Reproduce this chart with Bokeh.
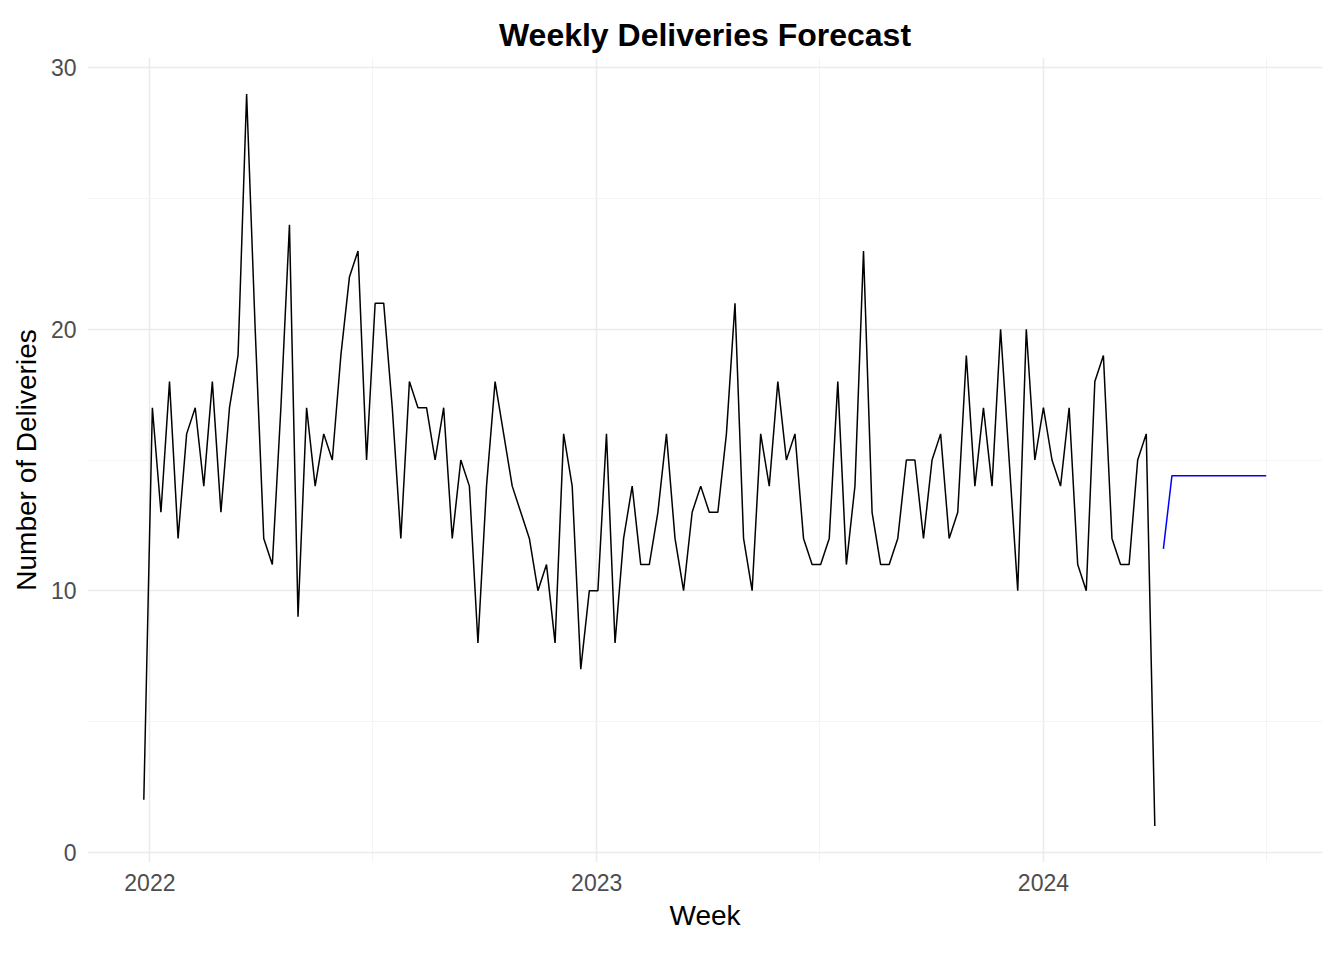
import pandas as pd
from bokeh.plotting import figure
from bokeh.models import Range1d, FixedTicker, DatetimeTickFormatter
from bokeh.embed import file_html
from bokeh.resources import INLINE

start = "2021-12-27"
actual = [2,17,13,18,12,16,17,14,18,13,17,19,29,20,12,11,17,24,9,17,14,16,15,19,22,23,15,21,21,17,
          12,18,17,17,15,17,12,15,14,8,14,18,16,14,13,12,10,11,8,16,14,7,10,10,16,8,12,14,11,11,
          13,16,12,10,13,14,13,13,16,21,12,10,16,14,18,15,16,12,11,11,12,18,11,14,23,13,11,11,12,15,
          15,12,15,16,12,13,19,14,17,14,20,15,10,20,15,17,15,14,17,11,10,18,19,12,11,11,15,16,1]
forecast = [11.6] + [14.4]*12

dates = pd.date_range(start, periods=len(actual), freq="7D")
fdates = pd.date_range(dates[-1] + pd.Timedelta(days=7), periods=len(forecast), freq="7D")

year_ticks = ["2022-01-01", "2023-01-01", "2024-01-01"]
minor_ticks = ["2022-07-02", "2023-07-02", "2024-07-01"]
tick_ms = [pd.Timestamp(t).value // 10**6 for t in year_ticks]
minor_ms = [pd.Timestamp(t).value // 10**6 for t in minor_ticks]

p = figure(width=1328, height=944, x_axis_type="datetime", output_backend="svg",
           toolbar_location=None, title="Weekly Deliveries Forecast",
           x_range=Range1d(pd.Timestamp("2021-11-11"), pd.Timestamp("2024-08-16")),
           y_range=Range1d(-0.4, 30.4),
           min_border_left=87, min_border_right=6, min_border_top=57, min_border_bottom=82)

p.line(dates, actual, line_color="black", line_width=1.5)
p.line(fdates, forecast, line_color="blue", line_width=1.5)

p.title.text_font = "Arial"
p.title.text_font_size = "32px"
p.title.text_font_style = "bold"
p.title.text_color = "black"
p.title.align = "center"
p.outline_line_color = None

p.xaxis.ticker = FixedTicker(ticks=tick_ms, minor_ticks=minor_ms)
p.xaxis.formatter = DatetimeTickFormatter(years="%Y", months="%Y", days="%Y", hours="%Y")
p.yaxis.ticker = FixedTicker(ticks=[0, 10, 20, 30], minor_ticks=[5, 15, 25])
p.xaxis.axis_label = "Week"
p.yaxis.axis_label = "Number of Deliveries"
for ax in (p.xaxis, p.yaxis):
    ax.axis_line_color = None
    ax.major_tick_line_color = None
    ax.minor_tick_line_color = None
    ax.major_label_text_font = "Arial"
    ax.major_label_text_font_size = "23px"
    ax.major_label_text_color = "#4d4d4d"
    ax.axis_label_text_font = "Arial"
    ax.axis_label_text_font_size = "28px"
    ax.axis_label_text_font_style = "normal"
    ax.axis_label_text_color = "black"
    ax.axis_label_standoff = 6
for g in (p.xgrid, p.ygrid):
    g.grid_line_color = "#ebebeb"
    g.grid_line_width = 1.5
    g.minor_grid_line_color = "#f4f4f4"
    g.minor_grid_line_width = 1

open("out.html", "w").write(file_html(p, INLINE))
